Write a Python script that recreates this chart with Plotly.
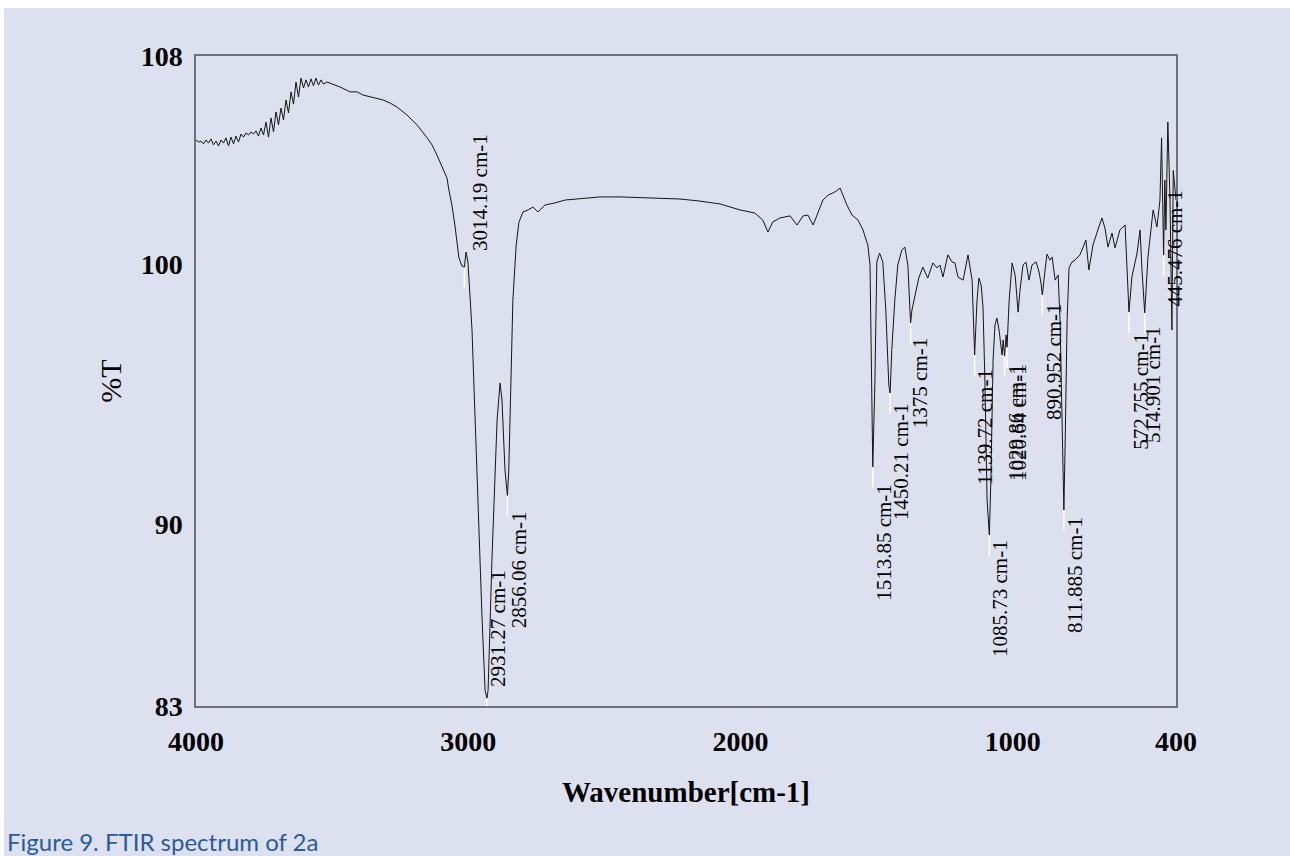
import numpy as np
import plotly.graph_objects as go

# ---------------- data ----------------
wavenumber = [
    4000, 3990.8, 3981.6, 3972.4, 3963.3, 3954.1, 3944.9, 3935.7, 3926.5, 3917.3, 3908.2, 3899.0,
    3889.8, 3880.6, 3871.4, 3862.2, 3853.1, 3843.9, 3834.7, 3825.5, 3816.3, 3807.1, 3798.0, 3788.8,
    3779.6, 3770.4, 3761.2, 3752.0, 3742.9, 3733.7, 3724.5, 3715.3, 3706.1, 3696.9, 3687.8, 3678.6,
    3669.4, 3660.2, 3651.0, 3641.8, 3632.7, 3623.5, 3614.3, 3605.1, 3595.9, 3586.7, 3577.6, 3568.4,
    3559.2, 3550.0, 3540.8, 3531.6, 3518.8,
    3497, 3471, 3434, 3408, 3387,
    3353, 3313, 3287, 3262, 3225, 3188, 3151, 3133, 3115, 3096, 3078, 3071, 3060, 3049, 3041, 3034,
    3023, 3014.19, 3008, 3001, 2986, 2968, 2949, 2938, 2931.27, 2927, 2913, 2894, 2883, 2876, 2865,
    2856.06, 2851, 2843, 2836, 2824, 2814, 2799, 2780, 2762, 2744, 2718, 2681, 2644, 2589, 2516, 2442,
    2332, 2222, 2149, 2075, 2002, 1947, 1918, 1899, 1881, 1855, 1818, 1792, 1770, 1752, 1733, 1715,
    1697, 1678, 1653, 1634, 1623, 1609, 1590, 1568, 1550, 1532, 1524, 1517, 1513.85, 1506, 1499, 1489,
    1477, 1466, 1455, 1450.21, 1444, 1433, 1422, 1407, 1396, 1385, 1375, 1370, 1360, 1345, 1330, 1312,
    1293, 1278, 1267, 1256, 1238, 1223, 1212, 1201, 1182, 1164, 1149, 1139.72, 1131, 1124, 1116, 1109,
    1102, 1094, 1085.73, 1080, 1072, 1065, 1058, 1050, 1039, 1035, 1029.86, 1024, 1020.64, 1013, 1002,
    991, 980, 973, 962, 951, 940, 929, 914, 903, 896, 890.952, 881, 874, 863, 855, 844, 833, 826, 818,
    811.885, 807, 800, 793, 782, 771, 753, 738, 731, 720, 705, 687, 672, 661, 650, 635, 624, 606, 587,
    572.755, 562, 543, 532, 525, 514.901, 503, 484, 470, 459, 453, 448, 445.476, 441, 437, 430, 422,
    415, 410, 400,
]
transmittance = [
    104.77, 104.69, 104.73, 104.62, 104.77, 104.65, 104.81, 104.58, 104.73, 104.54, 104.77, 104.65,
    104.85, 104.54, 104.88, 104.62, 104.92, 104.69, 105.0, 104.88, 105.04, 104.96, 105.08, 105.0,
    105.12, 104.92, 105.23, 104.96, 105.46, 104.88, 105.62, 105.08, 105.85, 105.35, 106.0, 105.54,
    106.31, 105.81, 106.62, 106.15, 107.0, 106.42, 107.15, 106.77, 107.08, 106.81, 107.12, 106.85,
    107.15, 106.88, 107.08, 106.92, 107.0,
    106.92, 106.81, 106.62, 106.62, 106.5,
    106.42, 106.31, 106.19, 106.04, 105.73, 105.35, 104.85, 104.58, 104.19, 103.73, 103.31, 102.85, 102.27, 101.5, 100.92, 100.23,
    99.92, 99.88, 100.46, 100.08, 97.46, 91.7, 86.3, 83.6, 83.3, 83.6, 88.6, 94.0, 95.42, 94.77, 92.08,
    91.1, 92.08, 95.54, 98.6, 100.7, 101.6, 102.0, 102.08, 102.19, 102.0, 102.27, 102.35, 102.46, 102.5, 102.58, 102.58,
    102.54, 102.5, 102.42, 102.31, 102.08, 101.96, 101.69, 101.23, 101.62, 101.77, 101.85, 101.5, 101.85, 101.88, 101.5, 102.0,
    102.46, 102.65, 102.77, 102.92, 102.65, 102.27, 101.88, 101.69, 101.31, 100.73, 99.96, 95.5, 92.19, 95.5, 100.08, 100.42,
    100.08, 98.23, 95.35, 95.04, 96.7, 98.6, 99.96, 100.54, 100.65, 99.96, 97.73, 98.23, 98.73, 99.46, 99.88, 99.46,
    100.04, 99.85, 99.96, 99.5, 100.35, 100.08, 100.04, 99.5, 99.38, 100.35, 99.38, 96.5, 98.6, 99.46, 99.19, 98.35,
    95.54, 90.92, 89.58, 91.7, 96.31, 97.65, 97.92, 97.46, 96.5, 97.08, 96.46, 97.27, 96.8, 98.6, 100.04,
    99.58, 98.15, 99.0, 99.96, 100.08, 99.38, 99.96, 100.08, 99.69, 99.27, 98.81, 99.77, 100.38, 100.15, 100.27, 99.38, 99.58, 97.85, 92.85,
    90.54, 93.23, 97.85, 99.85, 100.08, 100.15, 100.35, 100.73, 100.92, 99.77, 100.73, 101.31, 101.77, 101.38, 100.65, 101.19, 100.62, 101.31, 101.5,
    98.15, 99.5, 100.42, 101.31, 99.77, 98.12, 100.27, 102.08, 101.42, 102.46, 104.85, 102.46, 100.35, 103.23, 101.31, 105.46, 102.46,
    97.46, 103.6, 102.46,
]

peak_wn = [3014.19, 2931.27, 2856.06, 1513.85, 1450.21, 1375, 1139.72, 1085.73,
           1029.86, 1020.64, 890.952, 811.885, 572.755, 514.901, 445.476]
peak_text = ["3014.19 cm-1", "2931.27 cm-1", "2856.06 cm-1", "1513.85 cm-1", "1450.21 cm-1",
             "1375 cm-1", "1139.72 cm-1", "1085.73 cm-1", "1029.86 cm-1", "1020.64 cm-1",
             "890.952 cm-1", "811.885 cm-1", "572.755 cm-1", "514.901 cm-1", "445.476 cm-1"]
label_wn = [2957, 2891, 2813, 1473, 1410, 1340, 1102, 1047, 988, 977, 848, 771, 529, 484, 404]
label_t = [102.77, 86.0, 88.23, 89.31, 92.38, 95.42, 93.73, 87.15, 93.92, 93.92, 96.23, 88.04, 95.12, 95.35, 100.62]

x_ticks = [4000, 3000, 2000, 1000, 400]
y_ticks = [83, 90, 100, 108]

# ---------------- figure ----------------
BG = "#dde0ef"
SERIF = "Liberation Serif"
W, H = 1290, 856
L, R, T, B = 196, 114, 56, 150
PW, PH = W - L - R, H - T - B

wn_arr = np.array(wavenumber)[::-1]
t_arr = np.array(transmittance)[::-1]
peak_t = np.interp(peak_wn, wn_arr, t_arr)

mx, my = [], []
for w, t in zip(peak_wn, peak_t):
    mx += [w, w, None]
    my += [t, t - 0.8, None]

fig = go.Figure()
fig.add_trace(go.Scatter(x=mx, y=my, mode="lines", line=dict(color="white", width=1.5),
                         hoverinfo="skip", showlegend=False))
fig.add_trace(go.Scatter(x=wavenumber, y=transmittance, mode="lines",
                         line=dict(color="#151515", width=1), showlegend=False))

for txt, lx, ly in zip(peak_text, label_wn, label_t):
    fig.add_annotation(x=lx, y=ly, xref="x", yref="y", text=txt, showarrow=False,
                       textangle=-90, font=dict(family=SERIF, size=21, color="black"))

fig.add_annotation(x=(5 - L) / PW, y=(T + PH - 842) / PH, xref="paper", yref="paper",
                   xanchor="left", yanchor="middle", text="Figure 9. FTIR spectrum of 2a",
                   showarrow=False, font=dict(family="Lato", size=24, color="#2a5a9e"))

# thin white strips along the top and left edges of the original image
fig.add_shape(type="rect", xref="paper", yref="paper", x0=-L / PW - 0.01, x1=(W - L) / PW + 0.01,
              y0=(T + PH - 8) / PH, y1=(T + PH) / PH + 0.01, fillcolor="white",
              line=dict(width=0), layer="below")
fig.add_shape(type="rect", xref="paper", yref="paper", x0=-L / PW - 0.01, x1=(4 - L) / PW,
              y0=-B / PH - 0.01, y1=(T + PH) / PH + 0.01, fillcolor="white",
              line=dict(width=0), layer="below")

axis_common = dict(showgrid=False, zeroline=False, showline=True, mirror=True,
                   linecolor="#6e717c", linewidth=1.5, ticks="",
                   tickfont=dict(family=SERIF, size=28, color="black", weight="bold"))

fig.update_xaxes(range=[4000, 400], tickvals=x_ticks, ticktext=[str(v) for v in x_ticks],
                 ticklabelstandoff=10,
                 title=dict(text="Wavenumber[cm-1]", standoff=25,
                            font=dict(family=SERIF, size=29, color="black", weight="bold")),
                 **axis_common)
fig.update_yaxes(range=[83, 108], tickvals=y_ticks, ticktext=[str(v) for v in y_ticks],
                 ticklabelstandoff=6,
                 title=dict(text="%T", standoff=10,
                            font=dict(family=SERIF, size=30, color="black")),
                 **axis_common)

fig.update_layout(width=W, height=H, paper_bgcolor=BG, plot_bgcolor=BG,
                  margin=dict(l=L, r=R, t=T, b=B), showlegend=False)

fig.write_html("out.html", config={"displayModeBar": False},
               post_script="document.body.style.margin='0';document.body.style.overflow='hidden';")
